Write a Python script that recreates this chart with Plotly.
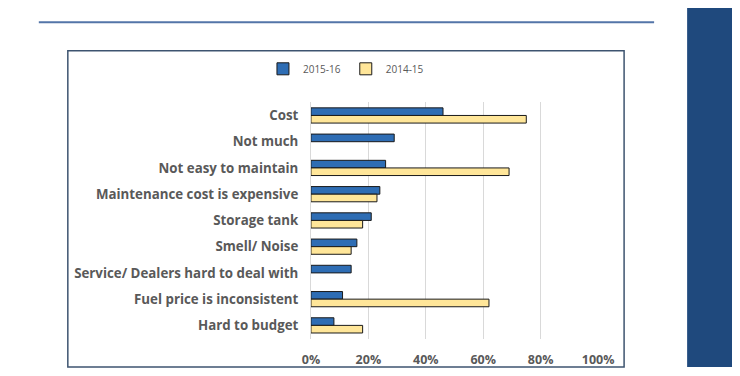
import plotly.graph_objects as go

categories = ["Cost", "Not much", "Not easy to maintain", "Maintenance cost is expensive",
              "Storage tank", "Smell/ Noise", "Service/ Dealers hard to deal with",
              "Fuel price is inconsistent", "Hard to budget"]
s2015_16 = [46, 29, 26, 24, 21, 16, 14, 11, 8]
s2014_15 = [75, None, 69, 23, 18, 14, None, 62, 18]
tick_vals = [0, 20, 40, 60, 80, 100]
tick_text = ["0%", "20%", "40%", "60%", "80%", "100%"]

# figure size chosen so the page (with default 8px body margin) is 740x376;
# px/py map target picture pixels to paper fractions (empirically calibrated)
W, H = 724, 360
def px(x): return ((x - 16.2) / 0.965) / W
def py(y): return 1 - (y - 6) / H

fig = go.Figure()
fig.add_trace(go.Bar(name="2015-16", y=categories, x=s2015_16, orientation="h",
                     marker=dict(color="#2E6DB4", line=dict(color="#1a1a1a", width=1))))
fig.add_trace(go.Bar(name="2014-15", y=categories, x=s2014_15, orientation="h",
                     marker=dict(color="#FFE699", line=dict(color="#1a1a1a", width=1))))

gray = "#595959"
fig.update_layout(
    width=W, height=H, autosize=False, margin=dict(l=0, r=0, t=0, b=0),
    paper_bgcolor="white", plot_bgcolor="white",
    barmode="group", bargap=0.42, bargroupgap=0,
    font=dict(family="Open Sans", color=gray),
    showlegend=True,
    legend=dict(orientation="h", x=px(345), y=py(70), xanchor="center", yanchor="middle",
                font=dict(size=10, color=gray), traceorder="normal",
                itemwidth=30, tracegroupgap=0),
    xaxis=dict(domain=[px(310), px(597)], range=[0, 100], tickvals=tick_vals, ticktext=tick_text,
               showgrid=True, gridcolor="#D9D9D9", gridwidth=1, zeroline=False,
               tickfont=dict(size=12.5, color=gray, family="Open Sans", weight="bold"),
               ticks="", showline=False, ticklabelstandoff=12),
    yaxis=dict(domain=[py(353.9), py(105.3)], categoryorder="array", categoryarray=categories,
               autorange="reversed", showgrid=False, zeroline=False,
               showline=True, linecolor="#D9D9D9", linewidth=1,
               ticks="", ticklabelstandoff=9,
               tickfont=dict(size=13.3, color=gray, family="Open Sans", weight="bold")),
    shapes=[
        dict(type="line", xref="paper", yref="paper", x0=px(38), x1=px(653), y0=py(21), y1=py(21),
             line=dict(color="#5375A8", width=2)),
        dict(type="rect", xref="paper", yref="paper", x0=px(67), x1=px(623), y0=-0.05, y1=py(51),
             line=dict(color="#3E5470", width=1.5), fillcolor="rgba(0,0,0,0)", layer="below"),
        dict(type="rect", xref="paper", yref="paper", x0=px(686), x1=1.05, y0=-0.05, y1=1.05,
             line=dict(width=0), fillcolor="#1F497D"),
    ],
)
fig.write_html("out.html", config=dict(responsive=False, displayModeBar=False, staticPlot=True))
